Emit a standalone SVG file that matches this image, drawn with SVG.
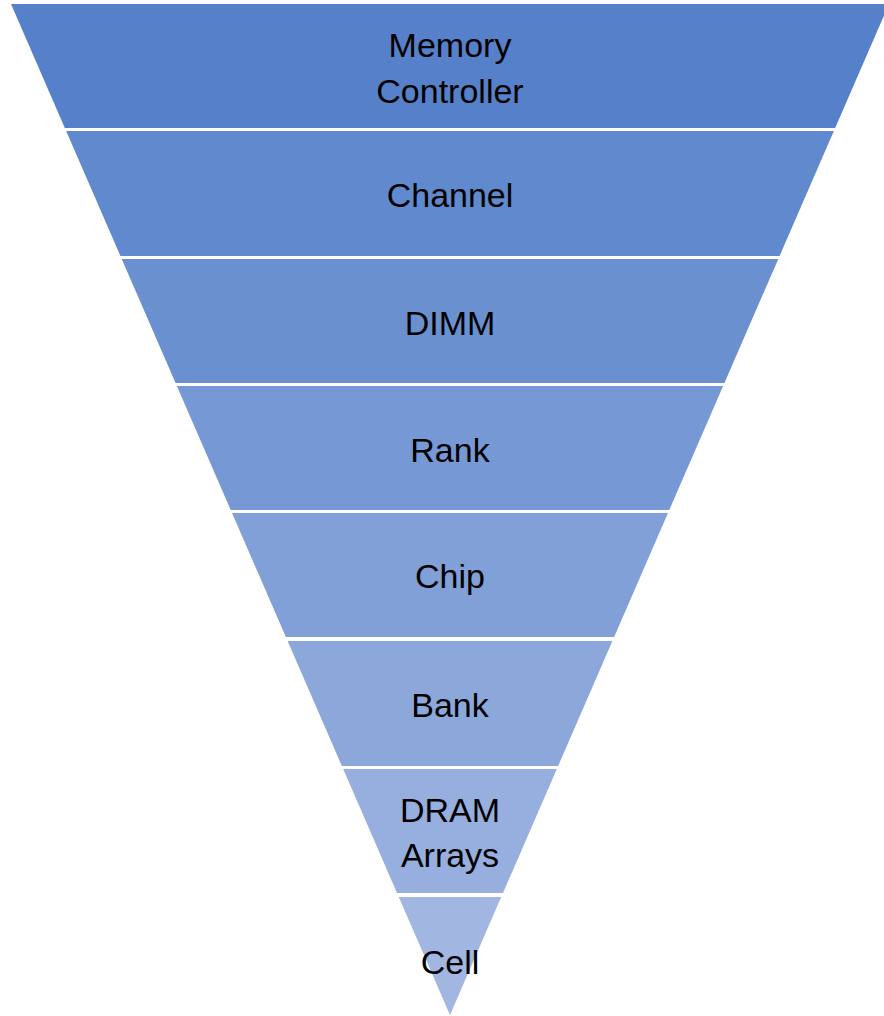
<svg xmlns="http://www.w3.org/2000/svg" width="884" height="1016" viewBox="0 0 884 1016">
  <style>
    .lbl { font-family: "Liberation Sans", Arial, sans-serif; font-size: 34px; fill: #000000; text-anchor: middle; }
  </style>
  <rect width="884" height="1016" fill="#ffffff"/>
  <!-- Inverted funnel: eight stacked trapezoid bands separated by thin white gaps -->
  <g id="memory-controller">
    <polygon points="11,4 889,4 835.16,128 64.84,128" fill="#5681CA"/>
    <text class="lbl" x="450" y="57">Memory</text>
    <text class="lbl" x="450" y="103">Controller</text>
  </g>
  <g id="channel">
    <polygon points="66.15,131 833.85,131 779.58,256 120.42,256" fill="#6189CD"/>
    <text class="lbl" x="450" y="207">Channel</text>
  </g>
  <g id="dimm">
    <polygon points="121.73,259 778.27,259 724.43,383 175.57,383" fill="#6B90D0"/>
    <text class="lbl" x="450" y="335">DIMM</text>
  </g>
  <g id="rank">
    <polygon points="176.87,386 723.13,386 669.28,510 230.72,510" fill="#7698D4"/>
    <text class="lbl" x="450" y="462">Rank</text>
  </g>
  <g id="chip">
    <polygon points="232.02,513 667.98,513 614.14,637 285.86,637" fill="#81A0D7"/>
    <text class="lbl" x="450" y="588">Chip</text>
  </g>
  <g id="bank">
    <polygon points="287.60,641 612.40,641 558.12,766 341.88,766" fill="#8CA8DA"/>
    <text class="lbl" x="450" y="717">Bank</text>
  </g>
  <g id="dram-arrays">
    <polygon points="343.18,769 556.82,769 502.98,893 397.02,893" fill="#96AFDE"/>
    <text class="lbl" x="450" y="822">DRAM</text>
    <text class="lbl" x="450" y="867">Arrays</text>
  </g>
  <g id="cell">
    <polygon points="398.76,897 501.24,897 450,1015" fill="#A1B7E1"/>
    <text class="lbl" x="450" y="974">Cell</text>
  </g>
  <g id="connectors"/>
</svg>
